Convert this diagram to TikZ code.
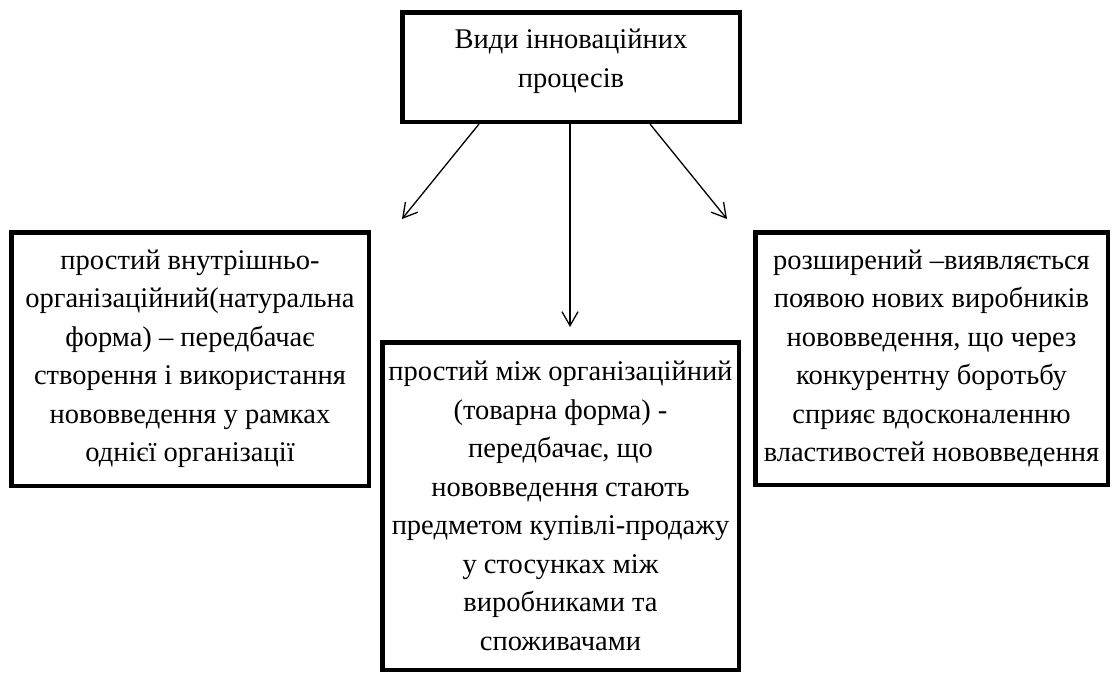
\documentclass[tikz,border=0pt]{standalone}
\usepackage{fontspec}
\setmainfont{Liberation Serif}
\usetikzlibrary{arrows.meta}
\tikzset{
  box/.style={draw=black, line width=4.5pt, fill=white, align=center, inner sep=0pt,
    font=\fontsize{28.5}{38.5}\selectfont},
  arr/.style={draw=black, line width=1.3pt, -{Straight Barb[length=14pt,width=16pt,line width=1.3pt]}}
}
\begin{document}
\begin{tikzpicture}[x=1pt,y=-1pt]
\useasboundingbox (0,0) rectangle (1112,675);
\node[box, minimum width=337.5pt, minimum height=109.5pt, text depth=18pt] (top) at (571,67)
  {Види інноваційних\\процесів};
\node[box, minimum width=357.5pt, minimum height=253.5pt] (left) at (190,359)
  {простий внутрішньо-\\організаційний(натуральна\\форма) – передбачає\\створення і використання\\нововведення у рамках\\однієї організації};
\node[box, minimum width=356.5pt, minimum height=327.5pt] (mid) at (560.5,506)
  {простий між організаційний\\(товарна форма) -\\передбачає, що\\нововведення стають\\предметом купівлі-продажу\\у стосунках між\\виробниками та\\споживачами};
\node[box, minimum width=352.5pt, minimum height=252.5pt] (right) at (931.5,358.5)
  {розширений –виявляється\\появою нових виробників\\нововведення, що через\\конкурентну боротьбу\\сприяє вдосконаленню\\властивостей нововведення};
\coordinate (la) at (402,219);
\coordinate (ma) at (570,327);
\coordinate (ra) at (727,219);
\draw[arr] ([xshift=-92pt]top.south) -- (la);
\draw[arr] ([xshift=-1pt]top.south) -- (ma);
\draw[arr] ([xshift=79pt]top.south) -- (ra);
\end{tikzpicture}
\end{document}
